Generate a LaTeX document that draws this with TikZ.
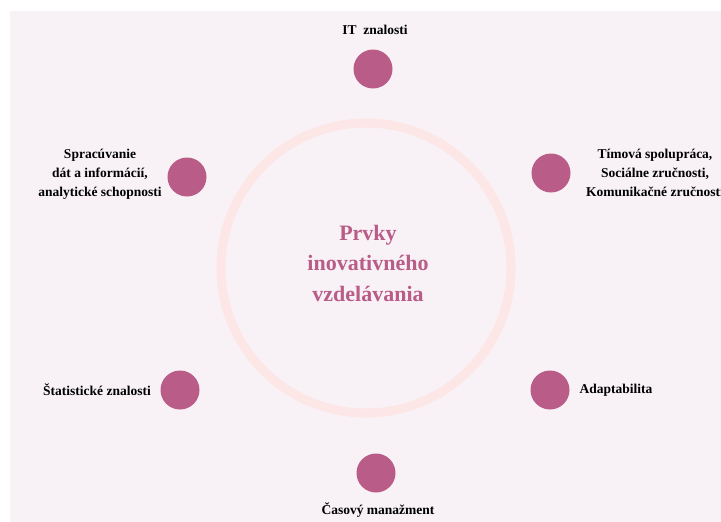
\documentclass[tikz,border=0pt]{standalone}
\usepackage{fontspec}
\setmainfont{Liberation Serif}
\definecolor{bgpink}{HTML}{F8F2F7}
\definecolor{ringpink}{HTML}{FDE6E6}
\definecolor{dotpink}{HTML}{B95C87}

\begin{document}
\begin{tikzpicture}[
      x=1pt, y=-1pt,
      dot/.style={circle, fill=dotpink, minimum size=39pt, inner sep=0pt},
      skilltext/.style={font=\bfseries\fontsize{13.5}{19}\selectfont, align=center, text=black, inner sep=0pt},
      titletext/.style={font=\bfseries\fontsize{22}{30.5}\selectfont, align=center, text=dotpink, inner sep=0pt}
    ]
    \useasboundingbox (0,0) rectangle (721,522);

    % Background panel
    \fill[bgpink] (10,11) rectangle (721,522);

    % Central ring with title
    \node[circle, draw=ringpink, line width=9pt, minimum size=290pt] (ring) at (366,268) {};
    \node[titletext] (title) at (368,263) {Prvky\\inovativného\\vzdelávania};

    % Dots around the ring
    \foreach \name/\x/\y in {it/373/69, spr/187/177, tim/551/173, stat/180/390, adapt/550/390, cas/376/473} {
      \node[dot] (\name) at (\x,\y) {};
    }

    % Labels of the dots
    \node[skilltext] (itlabel) at (375,30) {IT\ \ znalosti};
    \node[skilltext] (sprlabel) at (100,174) {Spracúvanie\\dát a informácií,\\analytické schopnosti};
    \node[skilltext] (timlabel) at (655,173) {Tímová spolupráca,\\Sociálne zručnosti,\\Komunikačné zručnosti};
    \node[skilltext] (statlabel) at (97,390) {Štatistické znalosti};
    \node[skilltext] (adaptlabel) at (616,390) {Adaptabilita};
    \node[skilltext] (caslabel) at (378,510) {Časový manažment};
  \end{tikzpicture}
\end{document}
